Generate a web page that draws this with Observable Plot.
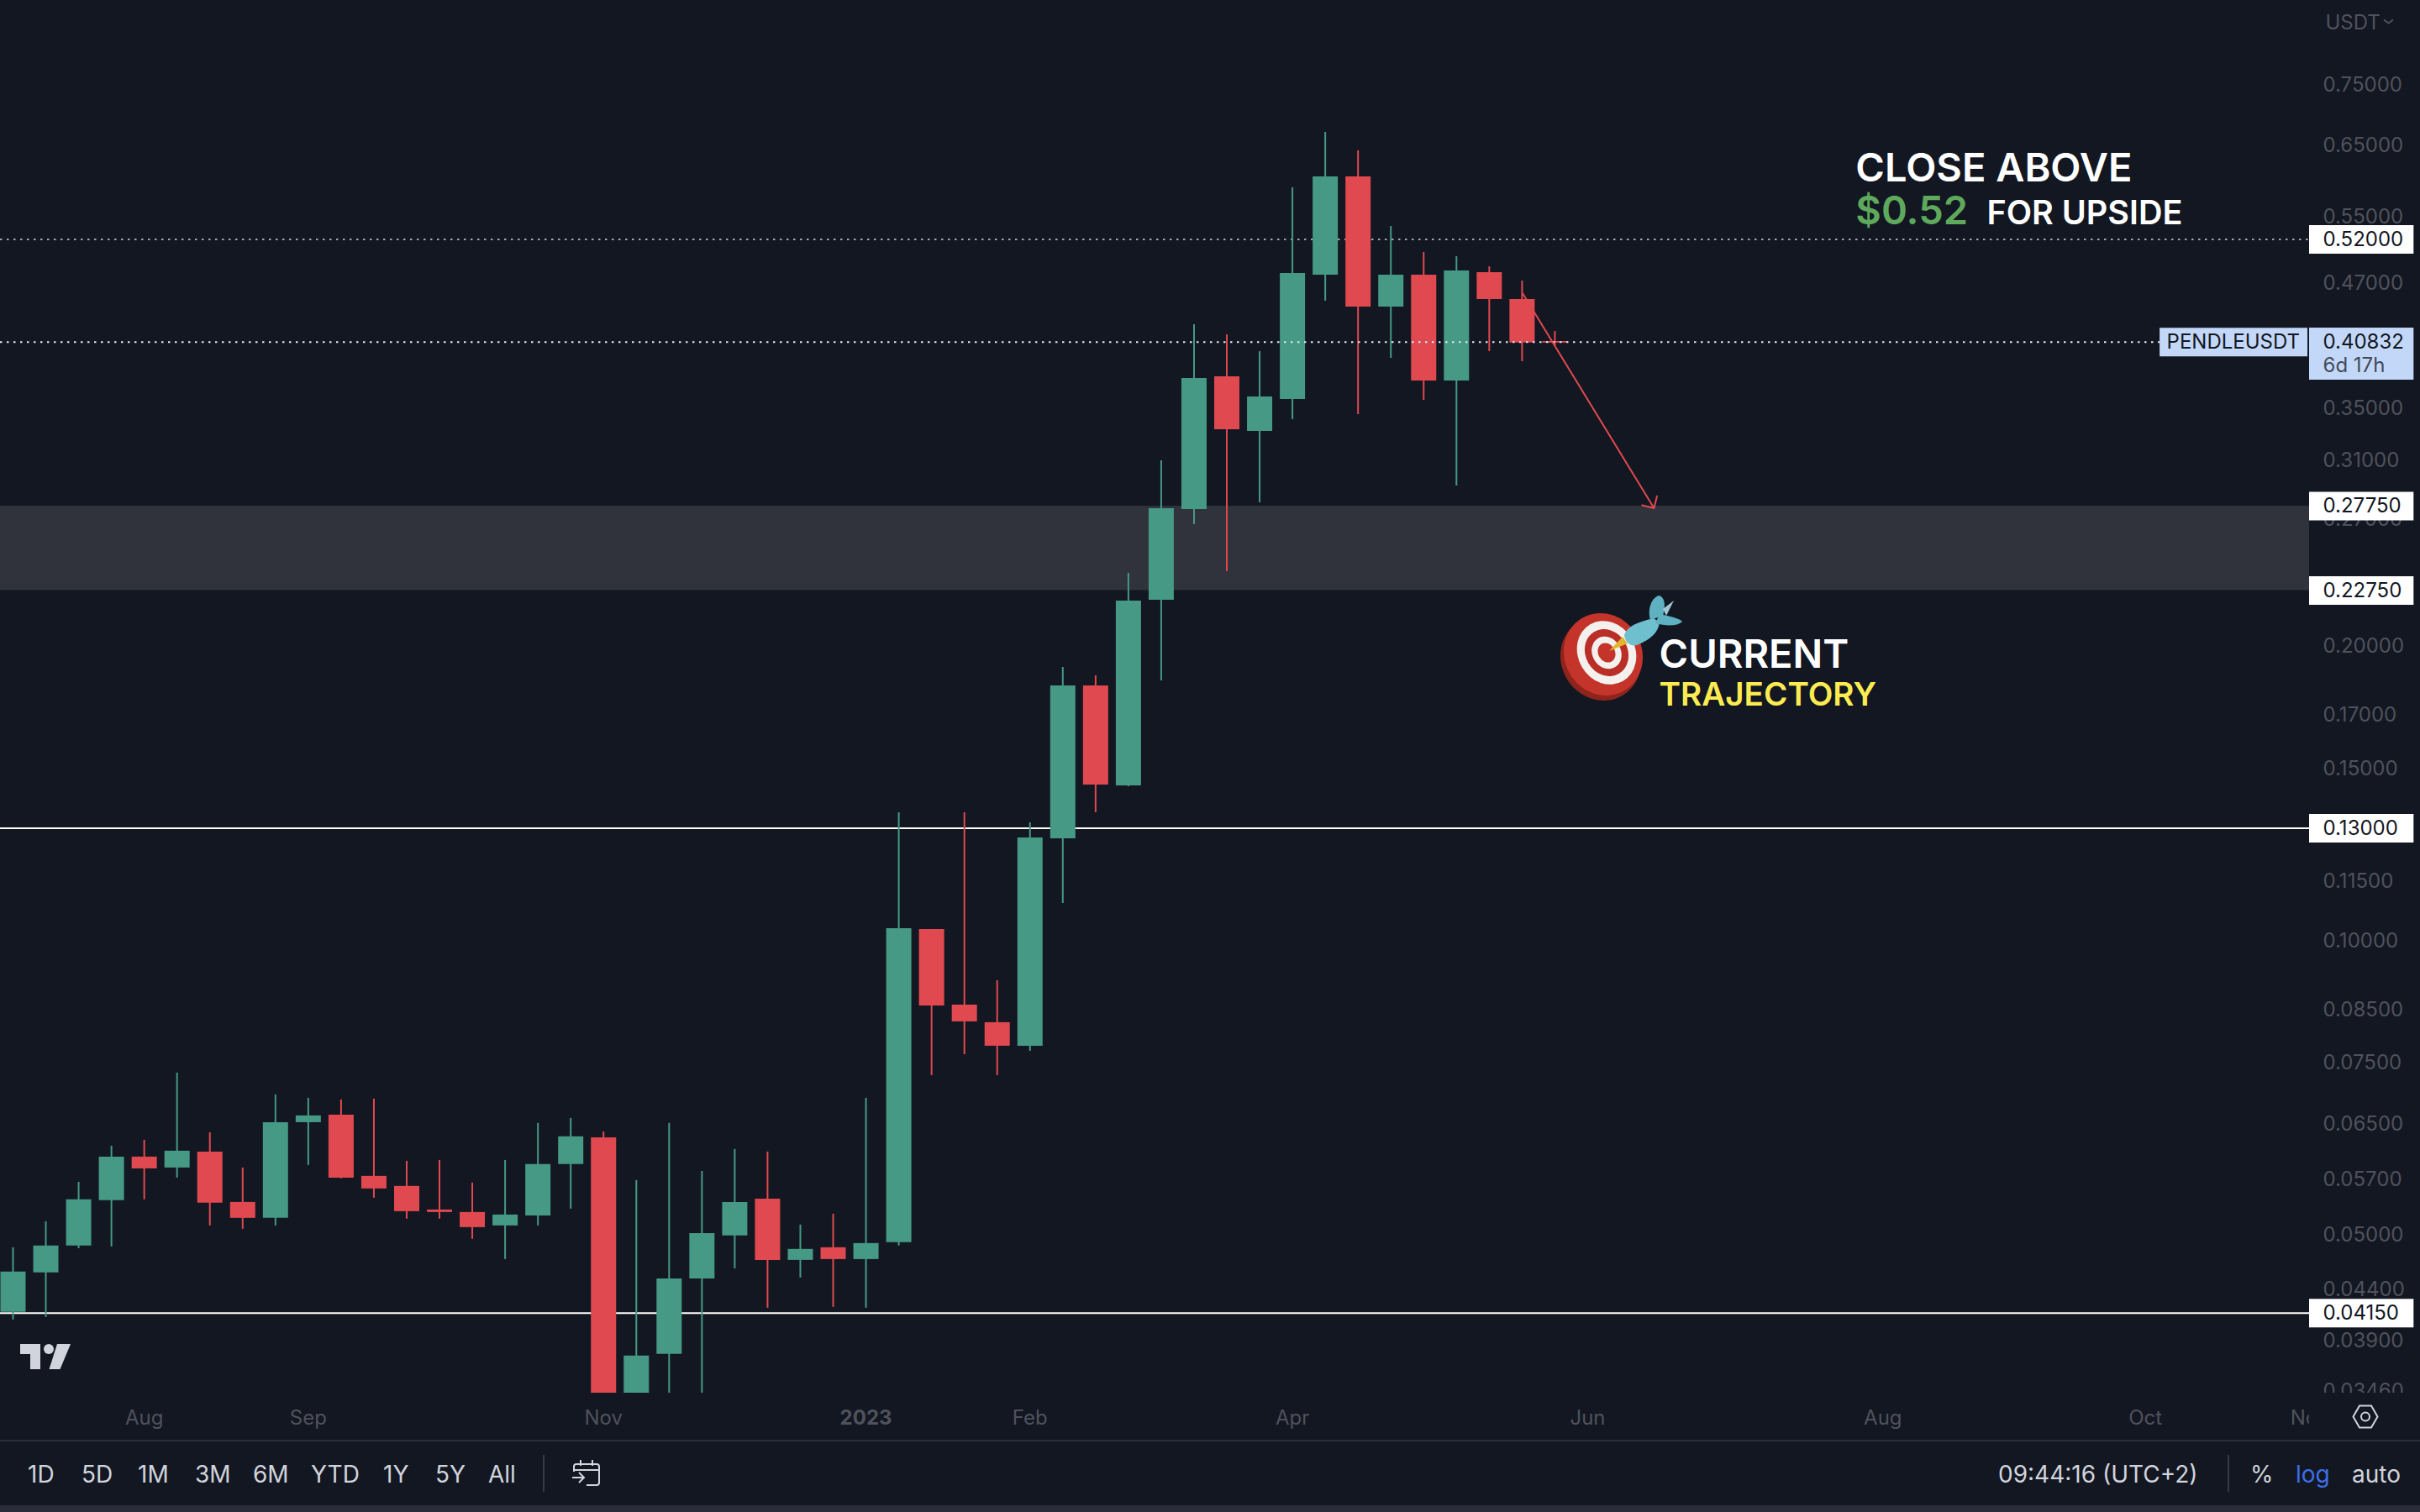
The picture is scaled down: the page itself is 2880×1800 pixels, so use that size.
<!DOCTYPE html>
<html>
<head>
<meta charset="utf-8">
<script src="https://cdn.jsdelivr.net/npm/d3@7"></script>
<script src="https://cdn.jsdelivr.net/npm/@observablehq/plot@0.6"></script>
<style>
html,body{margin:0;padding:0;background:#131722;}
#page{position:relative;width:2880px;height:1800px;overflow:hidden;background:#131722;font-family:Inter,sans-serif;}
#chart svg{display:block;}
#bar{position:absolute;left:0;top:1714px;width:2880px;height:86px;box-sizing:border-box;border-top:2px solid #2a2e39;}
#strip{position:absolute;left:0;top:76px;width:100%;height:8px;background:#2a2d39;}
#bar span{position:absolute;top:21px;line-height:36px;font-size:28px;color:#d1d4dc;white-space:nowrap;}
#bar i{position:absolute;width:2px;background:#363a45;top:16px;height:44px;}
#icons{position:absolute;left:0;top:0;pointer-events:none;}
</style>
</head>
<body>
<div id="page">
  <div id="chart"></div>
  <div id="bar">
    <span style="left:33px">1D</span><span style="left:97px">5D</span><span style="left:164px">1M</span>
    <span style="left:232px">3M</span><span style="left:301px">6M</span><span style="left:370px">YTD</span>
    <span style="left:456px">1Y</span><span style="left:518px">5Y</span><span style="left:581px">All</span>
    <i style="left:646px"></i>
    <span style="left:2378px">09:44:16 (UTC+2)</span>
    <i style="left:2651px"></i>
    <span style="left:2678px">%</span><span style="left:2732px;color:#3d6fe8">log</span><span style="left:2799px">auto</span>
    <div id="strip"></div>
  </div>
  <svg id="icons" width="2880" height="1800" viewBox="0 0 2880 1800" fill="none">
    <g fill="#d1d4dc">
      <path d="M24 1600H48V1630H36V1612H24Z"/>
      <circle cx="58" cy="1606" r="6"/>
      <path d="M68 1600H84L71.5 1630H58.5Z"/>
    </g>
    <path d="M2837 23.5L2842.5 27.5L2848 23.5" stroke="#4f525c" stroke-width="2"/>
    <g stroke="#d1d4dc" stroke-width="2">
      <path d="M2800.5 1686.5L2808 1673.5H2822L2829.5 1686.5L2822 1699.5H2808Z"/>
      <circle cx="2815" cy="1686.5" r="5"/>
      <path d="M683 1752V1746a3 3 0 0 1 3-3H710a3 3 0 0 1 3 3V1765a3 3 0 0 1-3 3H698M683 1750H713M691 1738V1745M705 1738V1745M681 1759H695M689 1753L695 1759L689 1765"/>
    </g>
    <g>
      <ellipse cx="1905" cy="784" rx="47" ry="51" transform="rotate(-30 1905 784)" fill="#8e241c"/>
      <ellipse cx="1908" cy="779" rx="46" ry="50" transform="rotate(-30 1908 779)" fill="#c4342a"/>
      <ellipse cx="1912" cy="777" rx="34" ry="39" transform="rotate(-30 1912 777)" fill="#f4f0ee"/>
      <ellipse cx="1912" cy="777" rx="25" ry="29" transform="rotate(-30 1912 777)" fill="#b92e26"/>
      <ellipse cx="1912" cy="777" rx="17" ry="20" transform="rotate(-30 1912 777)" fill="#f4f0ee"/>
      <ellipse cx="1912" cy="777" rx="10" ry="12" transform="rotate(-30 1912 777)" fill="#c4342a"/>
      <path d="M1915 775L1931 758L1937 766Z" fill="#e3b52c"/>
      <path d="M1933 756C1937 745 1948 741 1968 736L1975 741C1973 755 1962 762 1948 768C1940 770 1934 764 1933 756Z" fill="#6fc0cf"/>
      <path d="M1964 738C1960 725 1966 710 1975 709C1982 712 1982 722 1979 733Z" fill="#5fb0c0"/>
      <path d="M1975 731C1985 733 1999 736 2002 740C1996 746 1982 745 1970 742Z" fill="#5fb0c0"/>
      <path d="M1979 725L1992 715L1983 733Z" fill="#9fc8d4"/>
    </g>
  </svg>
</div>
<script>
const dates = ["2022-07-04","2022-07-11","2022-07-18","2022-07-25","2022-08-01","2022-08-08","2022-08-15","2022-08-22","2022-08-29","2022-09-05","2022-09-12","2022-09-19","2022-09-26","2022-10-03","2022-10-10","2022-10-17","2022-10-24","2022-10-31","2022-11-07","2022-11-14","2022-11-21","2022-11-28","2022-12-05","2022-12-12","2022-12-19","2022-12-26","2023-01-02","2023-01-09","2023-01-16","2023-01-23","2023-01-30","2023-02-06","2023-02-13","2023-02-20","2023-02-27","2023-03-06","2023-03-13","2023-03-20","2023-03-27","2023-04-03","2023-04-10","2023-04-17","2023-04-24","2023-05-01","2023-05-08","2023-05-15","2023-05-22","2023-05-29"];
const opens  = [.04157,.04562,.04860,.05408,.05993,.05841,.06065,.05386,.05188,.06499,.06616,.05727,.05593,.05291,.05260,.05096,.05218,.05888,.06272,.0340,.03766,.04499,.04977,.05429,.04699,.04841,.04708,.04899,.10243,.08572,.08224,.07781,.12682,.18178,.14363,.22241,.27537,.37639,.33098,.35681,.47817,.60267,.44355,.47817,.37268,.48102,.45152,.4090];
const closes = [.04571,.04860,.05419,.05993,.05829,.06077,.05376,.05188,.06499,.06603,.05704,.05560,.05270,.05260,.05076,.05229,.05888,.06285,.0340,.03751,.04499,.05006,.05386,.04699,.04822,.04708,.04889,.10263,.08555,.08240,.07781,.12707,.18178,.14394,.22197,.27592,.37490,.33229,.35893,.48006,.60267,.44355,.47817,.37268,.48292,.45152,.4075,.4075];
const highs  = [.04840,.05147,.05648,.06149,.06235,.07304,.06347,.05841,.06938,.06883,.06856,.06869,.05934,.05946,.05637,.05946,.06487,.06564,.06359,.05671,.06487,.05795,.06101,.06065,.05107,.05239,.06883,.13484,.10243,.13484,.09079,.13168,.18986,.18614,.23694,.30884,.42551,.41551,.39940,.58737,.66928,.64078,.53629,.50440,.49944,.48773,.47159,.41881];
const lows   = [.04084,.04108,.04831,.04850,.05419,.05704,.05096,.05056,.05096,.05876,.05693,.05440,.05178,.05178,.04938,.04708,.05096,.05302,.0340,.0340,.0340,.0340,.04607,.04198,.04508,.04207,.04198,.04860,.07261,.07628,.07261,.07689,.10891,.13484,.14335,.18395,.26574,.23788,.27976,.34027,.44973,.34433,.39313,.35611,.29105,.39940,.39003,.40417];

const tickPrices = [0.75,0.65,0.55,0.47,0.35,0.31,0.27,0.2,0.17,0.15,0.115,0.1,0.085,0.075,0.065,0.057,0.05,0.044,0.039,0.0346];
const monthTickDates = ["2022-08-01","2022-09-05","2022-11-07","2023-02-06","2023-04-03","2023-06-05","2023-08-07","2023-10-02","2023-11-06"];
const monthTickLabels = ["Aug","Sep","Nov","Feb","Apr","Jun","Aug","Oct","Nov"];
const yearTickDates = ["2023-01-02"];
const yearTickLabels = ["2023"];

const solidLevels = [0.13,0.0415];
const tagLevels = [0.52,0.2775,0.2275,0.13,0.0415];
const zoneTop = 0.2775, zoneBottom = 0.2275;
const resistance = 0.52, lastPrice = 0.40832;

const noteTexts  = ["CLOSE ABOVE","$0.52","FOR UPSIDE","CURRENT","TRAJECTORY"];
const noteDates  = ["2023-08-01T17:00Z","2023-08-01T17:00Z","2023-08-29T17:00Z","2023-06-20T19:00Z","2023-06-20T19:00Z"];
const notePrices = [.59556,.53866,.53866,.18949,.17335];
const noteSizes  = [47,47,39.5,47,38.6];
const noteColors = ["#ffffff","#5ea95b","#ffffff","#ffffff","#fdeb52"];

const arrowFrom = {date:"2023-05-22T04:00Z", price:.45782};
const arrowTo   = {date:"2023-06-19T04:00Z", price:.27619};

const BG="#131722", UP="#459985", DOWN="#e0494f", AXIS="#4f525c", TAG="#c3d8f8";
const D = s => new Date(s);
const paneStart = D("2022-07-01T07:30Z"), paneEnd = D("2023-11-06T00:30Z"), tagEnd = D("2023-11-28T07:30Z");
const symbolStart = D("2023-10-05T03:00Z"), symbolEnd = D("2023-11-05T16:00Z");

const candles = dates.map((d,i)=>({date:D(d),open:opens[i],close:closes[i],high:highs[i],low:lows[i]}));
const hue = d => d.close>=d.open ? UP : DOWN;
const monthLabel = new Map(monthTickDates.map((d,i)=>[+D(d),monthTickLabels[i]]));
const yearLabel = new Map(yearTickDates.map((d,i)=>[+D(d),yearTickLabels[i]]));
const notes = noteTexts.map((t,i)=>({t,date:D(noteDates[i]),price:notePrices[i],size:noteSizes[i],color:noteColors[i]}));

const chart = Plot.plot({
  width:2880, height:1714,
  marginLeft:0, marginRight:132, marginTop:0, marginBottom:56,
  style:{background:"transparent",fontFamily:"Inter, sans-serif"},
  x:{type:"utc",domain:[paneStart,paneEnd],axis:null},
  y:{type:"log",domain:[0.03437,0.913],axis:null},
  color:{type:"identity"},
  marks:[
    Plot.rect([0],{x1:paneStart,x2:paneEnd,y1:zoneBottom,y2:zoneTop,fill:"#30333c"}),
    Plot.ruleY(solidLevels,{x1:paneStart,x2:paneEnd,stroke:"#ffffff",strokeWidth:2}),
    Plot.ruleY([resistance],{x1:paneStart,x2:paneEnd,stroke:"#a3a5ab",strokeWidth:2,strokeDasharray:"2.5,5.5"}),
    Plot.ruleX(candles,{x:"date",y1:"low",y2:"high",stroke:hue,strokeWidth:2,clip:true}),
    Plot.ruleX(candles,{x:"date",y1:"open",y2:"close",stroke:hue,strokeWidth:30,clip:true}),
    Plot.ruleY([lastPrice],{x1:paneStart,x2:symbolStart,stroke:"#dfe8fb",strokeWidth:2,strokeDasharray:"2.5,5.5"}),
    Plot.arrow([0],{x1:D(arrowFrom.date),y1:arrowFrom.price,x2:D(arrowTo.date),y2:arrowTo.price,stroke:DOWN,strokeWidth:2,headLength:11,headAngle:90,bend:0}),

    Plot.axisY(tickPrices,{anchor:"right",tickSize:0,tickPadding:16,dy:1.5,tickFormat:d3.format(".5f"),fill:AXIS,fontSize:24,fontVariant:"normal",label:null}),
    Plot.axisX(monthTickDates.map(D),{anchor:"bottom",tickSize:0,tickPadding:20,tickFormat:d=>monthLabel.get(+d),fill:AXIS,fontSize:24,fontVariant:"normal",label:null}),
    Plot.axisX(yearTickDates.map(D),{anchor:"bottom",tickSize:0,tickPadding:20,tickFormat:d=>yearLabel.get(+d),fill:AXIS,fontSize:24,fontWeight:700,fontVariant:"normal",label:null}),
    Plot.rect([0],{x1:paneEnd,x2:D("2024-01-15"),y1:0.03437,y2:0.029,fill:BG}),

    Plot.ruleY(tagLevels,{x1:paneEnd,x2:tagEnd,stroke:"#ffffff",strokeWidth:34}),
    Plot.text(tagLevels,{x:paneEnd,y:d=>d,dx:16,text:d3.format(".5f"),textAnchor:"start",fill:"#131722",fontSize:24}),
    Plot.rect([0],{x1:paneEnd,x2:tagEnd,y1:0.3734,y2:0.4221,fill:TAG}),
    Plot.ruleY([lastPrice],{x1:symbolStart,x2:symbolEnd,stroke:TAG,strokeWidth:34}),
    Plot.text(["PENDLEUSDT"],{x:symbolStart,y:lastPrice,dx:8,textAnchor:"start",fill:"#131722",fontSize:24}),
    Plot.text([lastPrice],{x:paneEnd,y:d=>d,dx:16,text:d3.format(".5f"),textAnchor:"start",fill:"#131722",fontSize:24}),
    Plot.text(["6d 17h"],{x:paneEnd,y:0.3862,dx:16,textAnchor:"start",fill:"#434a58",fontSize:24}),
    Plot.text(["USDT"],{x:paneEnd,y:0.8653,dx:19,textAnchor:"start",fill:AXIS,fontSize:24}),

    Plot.text(notes,{x:"date",y:"price",text:"t",fontSize:"size",fill:"color",fontWeight:600,textAnchor:"start",lineAnchor:"bottom",dx:-3})
  ]
});
document.getElementById("chart").append(chart);
</script>
</body>
</html>
